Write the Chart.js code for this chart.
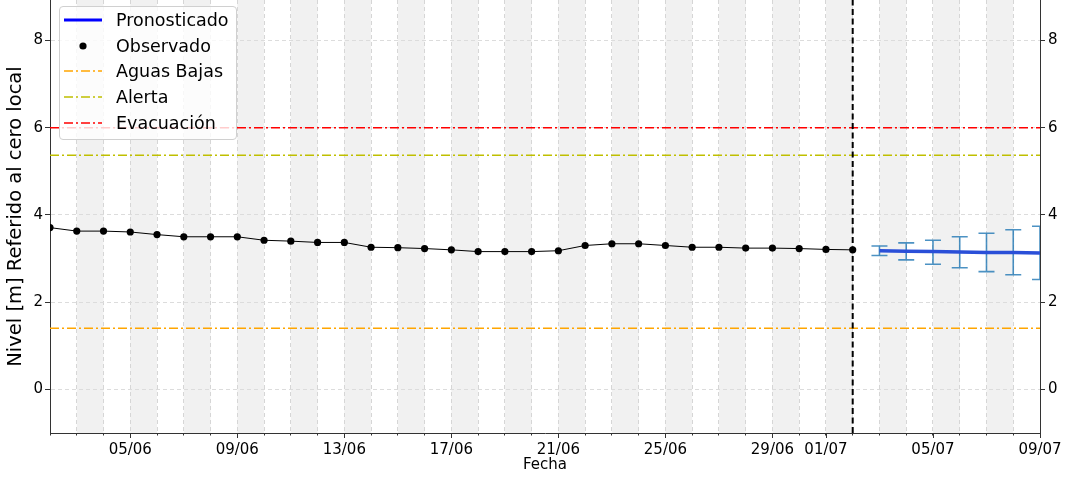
<!DOCTYPE html>
<html lang="es">
<head>
    <meta charset="UTF-8">
    <title>Nivel pronosticado y observado</title>
    <script src="https://cdn.jsdelivr.net/npm/chart.js"></script>
    <style>
        body {
            margin: 0;
            background: #fff;
            font-family: "DejaVu Sans", sans-serif;
        }
        #wrap {
            position: relative;
            width: 1069px;
            height: 479px;
        }
        #legend {
            position: absolute;
            left: 59px;
            top: 6px;
            width: 176px;
            height: 132px;
            border: 1px solid #d0d0d0;
            border-radius: 4px;
            background: rgba(255, 255, 255, 0.8);
            font-size: 17.5px;
            color: #000;
        }
        .row {
            height: 25.8px;
            display: flex;
            align-items: center;
        }
        .row svg {
            margin-left: 4px;
            margin-right: 14px;
            flex: none;
        }
    </style>
</head>
<body>
<div id="wrap">
    <canvas id="nivelChart" width="1069" height="479"></canvas>
    <div id="legend"></div>
</div>
<script>
    // Observado (diario)
    const obsFechas = ['02/06', '03/06', '04/06', '05/06', '06/06', '07/06', '08/06', '09/06',
        '10/06', '11/06', '12/06', '13/06', '14/06', '15/06', '16/06', '17/06', '18/06',
        '19/06', '20/06', '21/06', '22/06', '23/06', '24/06', '25/06', '26/06', '27/06',
        '28/06', '29/06', '30/06', '01/07', '02/07'];
    const obsNivel = [3.71, 3.63, 3.63, 3.61, 3.55, 3.50, 3.50, 3.50,
        3.42, 3.40, 3.37, 3.37, 3.26, 3.25, 3.23, 3.20, 3.16,
        3.16, 3.16, 3.18, 3.30, 3.34, 3.34, 3.30, 3.26, 3.26,
        3.24, 3.24, 3.23, 3.21, 3.20];

    // Pronosticado con banda de error
    const pronoFechas = ['03/07', '04/07', '05/07', '06/07', '07/07', '08/07', '09/07'];
    const pronoNivel = [3.18, 3.17, 3.16, 3.15, 3.14, 3.14, 3.13];
    const pronoInf = [3.07, 2.97, 2.87, 2.79, 2.70, 2.63, 2.52];
    const pronoSup = [3.29, 3.36, 3.42, 3.50, 3.58, 3.66, 3.74];

    // Umbrales
    const aguasBajas = 1.40;
    const alerta = 5.37;
    const evacuacion = 6.0;

    const fechaInicio = '02/06';
    const fechaFin = '09/07';
    const fechaCorte = '02/07';
    const etiquetasX = ['05/06', '09/06', '13/06', '17/06', '21/06', '25/06', '29/06', '01/07', '05/07', '09/07'];
    const ticksY = [0, 2, 4, 6, 8];

    const AÑO = 2024;
    const base = new Date(Date.UTC(AÑO, 5, 2));

    // 'dd/mm' -> dias desde 02/06
    function diaIndex(s) {
        const [d, m] = s.split('/').map(Number);
        return Math.round((Date.UTC(AÑO, m - 1, d) - base) / 86400000);
    }
    function diaLabel(i) {
        const f = new Date(base.getTime() + i * 86400000);
        return String(f.getUTCDate()).padStart(2, '0') + '/' + String(f.getUTCMonth() + 1).padStart(2, '0');
    }

    const xMin = diaIndex(fechaInicio);
    const xMax = diaIndex(fechaFin);
    const mayores = etiquetasX.map(diaIndex);

    function umbral(v) {
        return [{x: xMin, y: v}, {x: xMax, y: v}];
    }

    const colores = {
        prono: '#2a4fd8',
        obs: '#000000',
        bajas: '#ffa500',
        alerta: '#bfbf00',
        evac: '#ff0000',
        error: 'rgba(31, 119, 180, 0.8)'
    };
    const dashDot = [9, 3, 2, 3];

    // franjas grises, barras de error y linea de corte
    const decoraciones = {
        id: 'decoraciones',
        beforeDraw(chart) {
            const {ctx, chartArea, scales: {x}} = chart;
            ctx.save();
            ctx.fillStyle = '#f1f1f1';
            for (let d = xMin + 1; d < xMax; d += 2) {
                const x0 = x.getPixelForValue(d);
                const x1 = x.getPixelForValue(d + 1);
                ctx.fillRect(x0, chartArea.top, x1 - x0, chartArea.bottom - chartArea.top);
            }
            ctx.restore();
        },
        beforeDatasetsDraw(chart) {
            const {ctx, chartArea, scales: {x, y}} = chart;
            ctx.save();
            ctx.beginPath();
            ctx.rect(chartArea.left, chartArea.top, chartArea.right - chartArea.left, chartArea.bottom - chartArea.top);
            ctx.clip();
            ctx.strokeStyle = colores.error;
            ctx.lineWidth = 1.6;
            pronoFechas.forEach((f, i) => {
                const px = x.getPixelForValue(diaIndex(f));
                const yt = y.getPixelForValue(pronoSup[i]);
                const yb = y.getPixelForValue(pronoInf[i]);
                ctx.beginPath();
                ctx.moveTo(px, yt); ctx.lineTo(px, yb);
                ctx.moveTo(px - 8, yt); ctx.lineTo(px + 8, yt);
                ctx.moveTo(px - 8, yb); ctx.lineTo(px + 8, yb);
                ctx.stroke();
            });
            ctx.restore();
        },
        afterDatasetsDraw(chart) {
            const {ctx, chartArea, scales: {x}} = chart;
            const px = x.getPixelForValue(diaIndex(fechaCorte));
            ctx.save();
            ctx.strokeStyle = '#000';
            ctx.lineWidth = 2;
            ctx.setLineDash([6, 3.5]);
            ctx.beginPath();
            ctx.moveTo(px, chartArea.bottom);
            ctx.lineTo(px, chartArea.top);
            ctx.stroke();
            ctx.restore();
        },
        afterDraw(chart) {
            // ticks mayores mas largos
            const {ctx, chartArea, scales: {x}} = chart;
            ctx.save();
            ctx.strokeStyle = '#333';
            ctx.lineWidth = 1;
            mayores.forEach(d => {
                const px = Math.round(x.getPixelForValue(d)) + 0.5;
                ctx.beginPath();
                ctx.moveTo(px, chartArea.bottom);
                ctx.lineTo(px, chartArea.bottom + 5);
                ctx.stroke();
            });
            ctx.restore();
        }
    };

    function fijarY(ancho) {
        return function (scale) {
            scale.width = ancho;
            scale.paddingTop = 0;
            scale.paddingBottom = 0;
        };
    }

    Chart.defaults.font.family = '"DejaVu Sans", sans-serif';
    Chart.defaults.color = '#000';

    const ctx = document.getElementById('nivelChart').getContext('2d');
    new Chart(ctx, {
        type: 'line',
        data: {
            datasets: [
                {
                    label: 'Pronosticado',
                    data: pronoFechas.map((f, i) => ({x: diaIndex(f), y: pronoNivel[i]})),
                    borderColor: colores.prono,
                    borderWidth: 3.5,
                    pointRadius: 0
                },
                {
                    label: 'Observado',
                    data: obsFechas.map((f, i) => ({x: diaIndex(f), y: obsNivel[i]})),
                    borderColor: colores.obs,
                    backgroundColor: colores.obs,
                    borderWidth: 1,
                    pointRadius: 3.6,
                    pointBorderWidth: 0
                },
                {
                    label: 'Aguas Bajas',
                    data: umbral(aguasBajas),
                    borderColor: colores.bajas,
                    borderWidth: 1.5,
                    borderDash: dashDot,
                    pointRadius: 0
                },
                {
                    label: 'Alerta',
                    data: umbral(alerta),
                    borderColor: colores.alerta,
                    borderWidth: 1.5,
                    borderDash: dashDot,
                    pointRadius: 0
                },
                {
                    label: 'Evacuación',
                    data: umbral(evacuacion),
                    borderColor: colores.evac,
                    borderWidth: 1.5,
                    borderDash: dashDot,
                    pointRadius: 0
                }
            ]
        },
        options: {
            responsive: false,
            animation: false,
            layout: {padding: 0, autoPadding: false},
            plugins: {
                legend: {display: false},
                tooltip: {enabled: false}
            },
            scales: {
                x: {
                    type: 'linear',
                    min: xMin,
                    max: xMax,
                    afterBuildTicks: scale => {
                        const t = [];
                        for (let d = xMin; d <= xMax; d++) t.push({value: d});
                        scale.ticks = t;
                    },
                    afterFit: scale => {
                        scale.height = 46;
                        scale.paddingLeft = 0;
                        scale.paddingRight = 0;
                    },
                    ticks: {
                        autoSkip: false,
                        maxRotation: 0,
                        padding: 6,
                        font: {size: 15},
                        callback: v => mayores.includes(v) ? diaLabel(v) : ''
                    },
                    grid: {
                        color: '#d6d6d6',
                        lineWidth: 1,
                        tickLength: 2.5,
                        tickColor: '#333'
                    },
                    border: {display: true, color: '#333', width: 1, dash: [4, 3]},
                    title: {
                        display: true,
                        text: 'Fecha',
                        font: {size: 15},
                        padding: {top: 0, bottom: 5}
                    }
                },
                y: {
                    type: 'linear',
                    position: 'left',
                    min: -1,
                    max: 8.93,
                    afterBuildTicks: scale => {
                        scale.ticks = ticksY.map(v => ({value: v}));
                    },
                    afterFit: fijarY(50),
                    ticks: {
                        padding: 2,
                        font: {size: 15}
                    },
                    grid: {
                        color: '#dcdcdc',
                        lineWidth: 1,
                        tickLength: 5,
                        tickColor: '#333'
                    },
                    border: {display: true, color: '#333', width: 1, dash: [4, 3]},
                    title: {
                        display: true,
                        text: 'Nivel [m] Referido al cero local',
                        font: {size: 19.5},
                        padding: {top: 4.5, bottom: 0}
                    }
                },
                y2: {
                    type: 'linear',
                    position: 'right',
                    min: -1,
                    max: 8.93,
                    afterBuildTicks: scale => {
                        scale.ticks = ticksY.map(v => ({value: v}));
                    },
                    afterFit: fijarY(29),
                    ticks: {
                        padding: 3,
                        font: {size: 15}
                    },
                    grid: {
                        drawOnChartArea: false,
                        tickLength: 5,
                        tickColor: '#333'
                    },
                    border: {display: true, color: '#333', width: 1}
                }
            }
        },
        plugins: [decoraciones]
    });

    // leyenda
    function muestra(tipo, color) {
        const w = 38, h = 20, c = h / 2;
        let dentro = '';
        if (tipo === 'linea') {
            dentro = `<line x1="0" y1="${c}" x2="${w}" y2="${c}" stroke="${color}" stroke-width="3"/>`;
        } else if (tipo === 'punto') {
            dentro = `<circle cx="${w / 2}" cy="${c}" r="3.6" fill="${color}"/>`;
        } else {
            dentro = `<line x1="0" y1="${c}" x2="${w}" y2="${c}" stroke="${color}" stroke-width="1.5" stroke-dasharray="${dashDot.join(' ')}"/>`;
        }
        return `<svg width="${w}" height="${h}">${dentro}</svg>`;
    }
    const itemsLeyenda = [
        ['Pronosticado', 'linea', '#0000ff'],
        ['Observado', 'punto', colores.obs],
        ['Aguas Bajas', 'dash', colores.bajas],
        ['Alerta', 'dash', colores.alerta],
        ['Evacuación', 'dash', colores.evac]
    ];
    document.getElementById('legend').innerHTML = itemsLeyenda
        .map(([txt, tipo, col]) => `<div class="row">${muestra(tipo, col)}<span>${txt}</span></div>`)
        .join('');
</script>
</body>
</html>
